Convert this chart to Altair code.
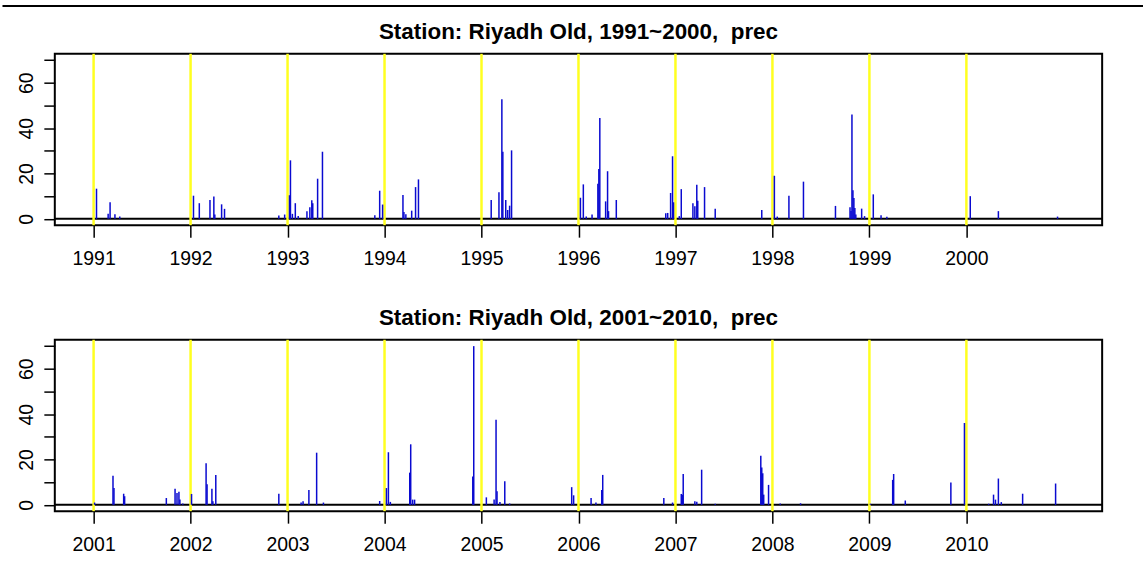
import altair as alt
import pandas as pd

FONT = "Liberation Sans"

# Year boundaries marked in each panel
years_a = list(range(1991, 2001))
years_b = list(range(2001, 2011))

# Daily precipitation events, 1991-2000 (decimal year, mm)
dates_a = [1991.03, 1991.15, 1991.17, 1991.22, 1991.27,
           1992.03, 1992.09, 1992.20, 1992.24, 1992.25, 1992.32, 1992.35,
           1992.91, 1992.97, 1993.02, 1993.03, 1993.05, 1993.08, 1993.11,
           1993.20, 1993.23, 1993.25, 1993.26, 1993.31, 1993.36,
           1993.90, 1993.95, 1993.98, 1994.19, 1994.20, 1994.22, 1994.28,
           1994.32, 1994.35,
           1995.10, 1995.18, 1995.21, 1995.22, 1995.25, 1995.27, 1995.29, 1995.31,
           1996.02, 1996.05, 1996.08, 1996.14, 1996.20, 1996.21, 1996.22,
           1996.28, 1996.30, 1996.31, 1996.39,
           1996.90, 1996.92, 1996.95, 1996.97, 1996.98, 1997.04, 1997.06,
           1997.18, 1997.20, 1997.22, 1997.23, 1997.30, 1997.41,
           1997.89, 1998.02, 1998.05, 1998.17, 1998.32,
           1998.65, 1998.80, 1998.81, 1998.82, 1998.83, 1998.84, 1998.85,
           1998.86, 1998.92, 1998.95, 1999.04, 1999.12, 1999.18,
           2000.04, 2000.33, 2000.94]
prec_a = [13.3, 2.2, 7.3, 2.0, 1.0,
          10.2, 6.9, 8.3, 9.8, 1.9, 6.4, 4.4,
          1.5, 1.9, 10.4, 25.8, 2.2, 6.9, 1.2,
          3.4, 5.1, 8.2, 6.9, 17.7, 29.6,
          1.6, 12.4, 6.3, 10.5, 3.0, 2.0, 3.6,
          14.0, 17.4,
          8.3, 11.7, 52.7, 29.6, 8.3, 3.9, 5.8, 30.2,
          9.3, 15.2, 1.0, 1.9, 15.5, 22.0, 44.5,
          7.7, 21.0, 3.4, 8.3,
          2.5, 2.6, 11.4, 27.6, 7.3, 1.2, 13.1,
          6.9, 5.5, 15.0, 8.0, 14.0, 4.4,
          3.9, 19.0, 1.0, 10.2, 16.4,
          5.7, 5.1, 3.5, 46.0, 12.6, 9.2, 4.8,
          1.9, 4.5, 1.2, 10.8, 1.6, 0.9,
          10.0, 3.4, 1.0]

# Daily precipitation events, 2001-2010 (decimal year, mm)
dates_b = [2001.01, 2001.20, 2001.21, 2001.31, 2001.32,
           2001.75, 2001.84, 2001.86, 2001.88, 2001.89, 2001.92,
           2002.01, 2002.16, 2002.17, 2002.22, 2002.23, 2002.26,
           2002.91, 2003.14, 2003.16, 2003.22, 2003.30, 2003.37,
           2003.95, 2004.02, 2004.04, 2004.06, 2004.26, 2004.27, 2004.29, 2004.31,
           2004.91, 2004.92, 2005.05, 2005.13, 2005.15, 2005.16, 2005.19,
           2005.24, 2005.29,
           2005.93, 2005.95, 2006.13, 2006.18, 2006.24, 2006.25,
           2006.88, 2006.97, 2007.06, 2007.07, 2007.08, 2007.20, 2007.22,
           2007.27, 2007.41,
           2007.88, 2007.89, 2007.90, 2007.91, 2007.96, 2008.08, 2008.29,
           2009.01, 2009.24, 2009.25, 2009.37, 2009.84, 2009.98,
           2010.23, 2010.28, 2010.30, 2010.33, 2010.36, 2010.58, 2010.92]
prec_b = [1.0, 12.8, 7.4, 4.9, 3.8,
          3.0, 7.1, 5.2, 5.8, 2.3, 0.6,
          4.8, 18.3, 9.1, 7.1, 1.6, 13.2,
          4.9, 1.0, 1.6, 6.5, 23.0, 1.0,
          1.7, 7.4, 23.2, 1.3, 14.2, 26.7, 2.3, 2.3,
          12.5, 70.0, 3.3, 2.3, 37.5, 6.0, 1.3,
          10.4, 0.6,
          7.8, 4.2, 3.0, 1.0, 6.5, 13.2,
          3.0, 1.0, 4.8, 4.5, 13.6, 1.6, 1.4,
          15.5, 0.5,
          21.6, 16.5, 13.9, 4.5, 8.8, 0.6, 0.7,
          0.5, 11.0, 13.6, 1.9, 9.9, 36.1,
          0.5, 4.5, 2.3, 11.6, 1.2, 4.9, 9.4]

Y_TICKS = [0, 10, 20, 30, 40, 50, 60, 70]
PANEL_W = 1051
PANEL_H = 172


def panel(dates, prec, years, title, top_rule=False):
    x_scale = alt.Scale(domain=[years[0] - 0.4, years[-1] + 1.4], nice=False, zero=False)
    y_scale = alt.Scale(domain=[-2.8, 72.8], nice=False, zero=False)
    x_axis = alt.Axis(values=years, format="d", tickSize=12, labelPadding=12,
                      labelFlush=False, labelOverlap=False)
    y_axis = alt.Axis(values=Y_TICKS, tickSize=11, labelPadding=7,
                      labelExpr="datum.value % 20 == 0 ? datum.label : ''",
                      labelAngle=-90, labelAlign="center", labelBaseline="bottom",
                      labelOverlap=False, labelFlush=False)

    events = pd.DataFrame({"t": dates, "p": prec, "z": [0.0] * len(dates)})
    bounds = pd.DataFrame({"t": years})
    baseline = pd.DataFrame({"z": [0.0]})

    zero_line = alt.Chart(baseline).mark_rule(color="black", strokeWidth=2).encode(
        y=alt.Y("z:Q", scale=y_scale, axis=y_axis, title=None)
    )
    year_lines = alt.Chart(bounds).mark_rule(color="#ffff20", strokeWidth=2.5).encode(
        x=alt.X("t:Q", scale=x_scale, axis=x_axis, title=None)
    )
    spikes = alt.Chart(events).mark_rule(color="#0a0ad0", strokeWidth=1.5).encode(
        x=alt.X("t:Q", scale=x_scale, axis=x_axis, title=None),
        y=alt.Y("z:Q", scale=y_scale, axis=y_axis, title=None),
        y2=alt.Y2("p:Q"),
    )
    heading = alt.Chart(baseline).mark_text(
        text=title, font=FONT, fontSize=22.5, fontWeight="bold", color="black",
        align="center", baseline="alphabetic",
    ).encode(x=alt.value(PANEL_W / 2), y=alt.value(-15))
    layers = [zero_line, year_lines, spikes, heading]
    if top_rule:
        layers.append(
            alt.Chart(baseline).mark_rule(color="black", strokeWidth=2).encode(
                x=alt.value(-52.5), x2=alt.value(1092), y=alt.value(-48)
            )
        )
    return alt.layer(*layers).properties(width=PANEL_W, height=PANEL_H)


top = panel(dates_a, prec_a, years_a, "Station: Riyadh Old, 1991~2000, \u00a0prec", top_rule=True)
bottom = panel(dates_b, prec_b, years_b, "Station: Riyadh Old, 2001~2010, \u00a0prec")

chart = alt.vconcat(top, bottom, spacing=37).properties(
    padding={"left": 0, "top": 3, "right": 0, "bottom": 0},
    background="white",
).configure_view(
    stroke="black", strokeWidth=2
).configure_axis(
    grid=False, domain=False, tickColor="black", tickWidth=1.5,
    labelFont=FONT, labelFontSize=19.5, labelColor="black",
)

chart.save("out.html", embed_options={"renderer": "svg", "actions": False})
